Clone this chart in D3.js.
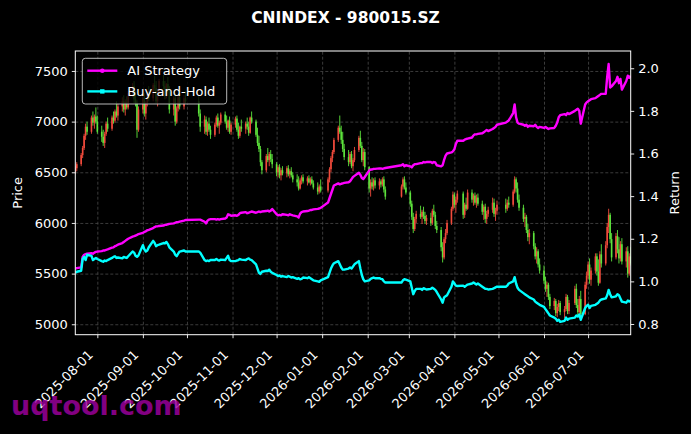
<!DOCTYPE html>
<html>
<head>
<meta charset="utf-8">
<script src="https://cdn.jsdelivr.net/npm/d3@7"></script>
<style>
html, body { margin: 0; padding: 0; background: #000; }
svg { display: block; font-family: "DejaVu Sans", sans-serif; }
</style>
</head>
<body>
<svg id="chart" width="691" height="434" viewBox="0 0 691 434"></svg>
<script>
// market closed (weekdays)
const holidays = ["2025-10-01","2025-10-02","2025-10-03","2025-10-06","2025-10-07","2025-10-08",
    "2026-01-01","2026-01-02","2026-02-16","2026-02-17","2026-02-18","2026-02-19","2026-02-20","2026-02-23",
    "2026-04-06","2026-05-01","2026-05-04","2026-05-05","2026-06-19"];

// daily [open, high, low, close]
const candles = [
    // 2025-07
    [6500,6560,6480,6540],[6540,6600,6510,6580],[6580,6690,6560,6670],[6670,6760,6640,6740],[6740,6880,6720,6860],[6860,6980,6820,6950],[6950,7000,6870,6900],[6900,7060,6880,7040],[7040,7100,6960,6990],[6990,7070,6930,7050],[7050,7140,6980,7000],
    // 2025-08
    [7000,7060,6880,6900],[6900,6960,6800,6850],[6850,6920,6760,6790],[6790,6900,6740,6880],[6880,7000,6860,6980],[6980,7040,6900,6930],[6930,7060,6910,7040],[7040,7100,6980,7010],[7010,7120,6990,7100],[7100,7200,7040,7060],[7060,7180,7010,7150],[7150,7240,7100,7200],[7200,7260,7090,7120],[7120,7220,7060,7190],[7190,7250,7120,7140],[7140,7300,7120,7280],[7280,7380,7240,7350],[7350,7400,7180,7220],[7220,7300,7150,7180],[7180,7210,6840,6920],[6920,7150,6900,7120],
    // 2025-09
    [7120,7250,7080,7230],[7230,7280,7050,7080],[7080,7200,7020,7180],[7180,7300,7150,7270],[7270,7350,7200,7230],[7230,7380,7200,7360],[7360,7450,7300,7330],[7330,7400,7180,7200],[7200,7320,7150,7300],[7300,7420,7260,7400],[7400,7460,7320,7350],[7350,7400,7220,7250],[7250,7380,7230,7370],[7370,7440,7280,7300],[7300,7350,7080,7120],[7120,7250,7060,7230],[7230,7280,6960,7000],[7000,7150,6980,7130],[7130,7260,7100,7240],[7240,7300,7120,7150],[7150,7260,7120,7230],[7230,7300,7180,7200],
    // 2025-10
    [7200,7250,7050,7080],[7080,7120,6900,6950],[6950,7060,6880,7020],[7020,7050,6870,6900],[6900,7000,6860,6980],[6980,7040,6900,6920],[6920,6960,6830,6870],[6870,6990,6850,6970],[6970,7060,6950,7040],[7040,7080,6940,6960],[6960,7010,6880,6990],[6990,7090,6970,7070],[7070,7100,6980,7000],[7000,7060,6920,6940],[6940,7020,6900,7010],[7010,7050,6880,6900],[6900,6990,6870,6970],
    // 2025-11
    [6970,7050,6940,7030],[7030,7060,6900,6920],[6920,6990,6830,6860],[6860,6960,6840,6950],[6950,7020,6900,6930],[6930,7000,6880,6980],[6980,7040,6920,6950],[6950,7000,6860,6890],[6890,7050,6880,7040],[7040,7100,6980,7000],[7000,7020,6850,6870],[6870,6940,6760,6790],[6790,6860,6700,6730],[6730,6760,6560,6600],[6600,6620,6480,6520],[6520,6680,6500,6660],[6660,6740,6600,6620],[6620,6700,6560,6680],[6680,6720,6600,6630],[6630,6680,6540,6580],
    // 2025-12
    [6580,6600,6460,6500],[6500,6570,6450,6550],[6550,6580,6440,6470],[6470,6540,6420,6520],[6520,6560,6470,6490],[6490,6560,6450,6540],[6540,6570,6460,6480],[6480,6530,6440,6510],[6510,6550,6450,6470],[6470,6500,6400,6430],[6430,6480,6360,6400],[6400,6460,6320,6340],[6340,6440,6330,6420],[6420,6470,6380,6450],[6450,6480,6390,6410],[6410,6460,6370,6440],[6440,6470,6390,6400],[6400,6450,6370,6430],[6430,6460,6380,6390],[6390,6420,6330,6350],[6350,6400,6280,6310],[6310,6380,6290,6360],[6360,6430,6300,6320],
    // 2026-01
    [6320,6450,6300,6430],[6430,6550,6400,6530],[6530,6660,6500,6640],[6640,6720,6600,6700],[6700,6840,6680,6820],[6820,6960,6800,6940],[6940,7060,6880,6900],[6900,6960,6780,6820],[6820,6900,6700,6730],[6730,6780,6620,6650],[6650,6720,6560,6600],[6600,6700,6580,6680],[6680,6710,6540,6560],[6560,6640,6510,6620],[6620,6750,6600,6720],[6720,6860,6700,6840],[6840,6910,6740,6760],[6760,6800,6600,6620],[6620,6740,6560,6700],[6700,6730,6520,6550],
    // 2026-02
    [6550,6560,6300,6340],[6340,6430,6260,6400],[6400,6450,6330,6360],[6360,6440,6320,6420],[6420,6450,6340,6370],[6370,6440,6330,6410],[6410,6430,6350,6380],[6380,6450,6360,6430],[6430,6460,6300,6330],[6330,6360,6230,6260],[6260,6380,6250,6360],[6360,6450,6330,6430],[6430,6460,6330,6350],[6350,6400,6280,6300],
    // 2026-03
    [6300,6320,6160,6190],[6190,6220,6030,6060],[6060,6100,5900,5940],[5940,6060,5920,6040],[6040,6120,6000,6090],[6090,6170,6040,6060],[6060,6130,5990,6110],[6110,6160,6040,6070],[6070,6110,5990,6020],[6020,6080,5980,6050],[6050,6100,5970,6000],[6000,6140,5980,6120],[6120,6180,6060,6080],[6080,6110,5940,5970],[5970,6020,5900,5930],[5930,5960,5720,5760],[5760,5810,5610,5660],[5660,5860,5640,5840],[5840,5940,5800,5900],[5900,6030,5880,6000],[6000,6160,5980,6140],[6140,6310,6120,6280],
    // 2026-04
    [6280,6300,6150,6180],[6180,6260,6100,6230],[6230,6320,6200,6290],[6290,6310,6040,6080],[6080,6200,6050,6180],[6180,6250,6120,6140],[6140,6330,6130,6300],[6300,6330,6200,6230],[6230,6290,6170,6270],[6270,6300,6180,6200],[6200,6280,6150,6250],[6250,6290,6170,6190],[6190,6220,6080,6110],[6110,6180,6030,6160],[6160,6190,6000,6040],[6040,6120,5990,6090],[6090,6160,6060,6130],[6130,6250,6100,6200],[6200,6240,6060,6090],[6090,6150,6020,6120],[6120,6220,6080,6180],
    // 2026-05
    [6180,6240,6100,6140],[6140,6230,6120,6200],[6200,6260,6150,6180],[6180,6330,6160,6310],[6310,6460,6290,6430],[6430,6450,6300,6340],[6340,6400,6200,6230],[6230,6280,6120,6150],[6150,6180,6010,6040],[6040,6100,5960,6060],[6060,6080,5900,5930],[5930,5990,5820,5860],[5860,5940,5790,5900],[5900,5920,5740,5770],[5770,5800,5640,5670],[5670,5760,5600,5720],[5720,5740,5560,5590],[5590,5650,5500,5530],
    // 2026-06
    [5530,5580,5400,5430],[5430,5470,5320,5350],[5350,5420,5270,5390],[5390,5410,5240,5270],[5270,5300,5150,5180],[5180,5260,5140,5230],[5230,5250,5080,5110],[5110,5200,5070,5170],[5170,5240,5130,5210],[5210,5230,5090,5120],[5120,5180,5060,5150],[5150,5300,5130,5270],[5270,5290,5100,5130],[5130,5240,5100,5210],[5210,5380,5190,5350],[5350,5400,5160,5190],[5190,5250,5080,5120],[5120,5280,5100,5250],[5250,5330,5060,5100],[5100,5420,5090,5390],[5390,5520,5350,5480],
    // 2026-07
    [5480,5620,5450,5590],[5590,5650,5400,5440],[5440,5560,5380,5530],[5530,5700,5500,5670],[5670,5700,5480,5520],[5520,5640,5380,5410],[5410,5720,5400,5690],[5690,5790,5560,5600],[5600,5820,5580,5780],[5780,6000,5750,5960],[5960,6140,5900,6080],[6080,6100,5800,5840],[5840,5900,5620,5660],[5660,5900,5640,5870],[5870,5930,5700,5740],[5740,5860,5600,5650],[5650,5820,5620,5790],[5790,5850,5590,5620],[5620,5760,5560,5720],[5720,5770,5460,5500],[5500,5700,5480,5670],[5670,5760,5580,5600]
];

const aiStrategy = [
    1.060,1.062,1.066,1.115,1.125,1.128,1.130,1.132,1.130,1.135,1.138,
    1.140,1.142,1.145,1.145,1.148,1.150,1.158,1.160,1.165,1.168,1.172,1.180,1.185,1.190,1.195,1.200,1.210,1.212,1.215,1.218,1.222,
    1.228,1.232,1.235,1.240,1.242,1.250,1.255,1.258,1.258,1.260,1.262,1.265,1.265,1.268,1.270,1.272,1.275,1.278,1.278,1.280,1.285,1.288,
    1.290,1.290,1.280,1.272,1.285,1.290,1.292,1.292,1.290,1.292,1.290,1.292,1.295,1.300,1.315,1.312,1.308,
    1.310,1.308,1.312,1.320,1.322,1.325,1.320,1.322,1.325,1.328,1.322,1.325,1.328,1.325,1.328,1.330,1.332,1.328,1.332,1.340,
    1.315,1.310,1.312,1.310,1.315,1.312,1.310,1.315,1.312,1.310,1.305,1.300,1.318,1.325,1.328,1.330,1.332,1.335,1.335,1.338,1.340,1.342,1.345,
    1.370,1.390,1.410,1.430,1.450,1.460,1.455,1.458,1.460,1.462,1.465,1.470,1.480,1.490,1.495,1.510,1.500,1.485,1.480,1.490,
    1.520,1.525,1.525,1.528,1.528,1.530,1.530,1.528,1.530,1.532,1.545,1.550,1.540,1.545,
    1.540,1.535,1.545,1.550,1.550,1.555,1.555,1.560,1.558,1.560,1.560,1.555,1.560,1.558,1.545,1.540,1.545,1.570,1.590,1.600,1.605,1.610,
    1.620,1.645,1.660,1.660,1.665,1.668,1.670,1.675,1.685,1.690,1.690,1.692,1.695,1.700,1.705,1.710,1.705,1.715,1.720,1.725,1.735,
    1.745,1.750,1.755,1.790,1.830,1.770,1.745,1.740,1.735,1.730,1.735,1.725,1.730,1.728,1.735,1.725,1.720,1.725,
    1.720,1.725,1.720,1.715,1.718,1.720,1.730,1.745,1.770,1.780,1.785,1.780,1.790,1.785,1.800,1.805,1.810,1.800,1.740,1.830,1.840,
    1.845,1.850,1.855,1.860,1.865,1.870,1.875,1.880,1.880,1.960,2.020,1.910,1.915,1.940,1.960,1.930,1.950,1.900,1.940,1.965,1.955,1.965
];

const buyHold = [
    1.040,1.045,1.050,1.105,1.115,1.100,1.125,1.120,1.100,1.105,1.110,
    1.105,1.095,1.092,1.098,1.095,1.100,1.110,1.115,1.118,1.110,1.112,1.108,1.115,1.112,1.110,1.118,1.140,1.135,1.120,1.115,1.122,
    1.170,1.150,1.140,1.145,1.160,1.190,1.180,1.165,1.170,1.172,1.180,1.178,1.185,1.175,1.160,1.140,1.125,1.118,1.130,1.140,1.145,1.140,
    1.140,1.135,1.100,1.095,1.098,1.095,1.100,1.100,1.105,1.100,1.098,1.102,1.100,1.110,1.120,1.100,1.095,
    1.095,1.098,1.100,1.105,1.102,1.100,1.105,1.108,1.102,1.100,1.080,1.060,1.040,1.035,1.045,1.050,1.048,1.055,1.045,1.040,
    1.030,1.025,1.028,1.022,1.025,1.020,1.025,1.022,1.018,1.020,1.012,1.015,1.010,1.012,1.018,1.015,1.020,1.015,1.010,1.005,1.000,0.998,1.005,
    1.020,1.040,1.060,1.075,1.085,1.095,1.080,1.065,1.055,1.055,1.060,1.065,1.060,1.070,1.080,1.095,1.060,1.030,1.010,1.000,
    1.005,1.012,1.015,1.018,1.015,1.015,1.012,1.010,1.000,0.995,0.995,1.005,1.010,1.008,
    1.000,0.970,0.940,0.955,0.965,0.965,0.960,0.968,0.965,0.962,0.965,0.970,0.965,0.960,0.950,0.915,0.900,0.925,0.930,0.935,0.975,1.000,
    0.990,0.980,0.978,0.980,0.975,0.980,0.985,0.990,0.995,0.990,0.985,0.990,0.975,0.970,0.965,0.965,0.962,0.965,0.968,0.972,0.975,
    0.975,0.980,0.990,1.000,1.020,0.990,0.970,0.960,0.945,0.940,0.935,0.930,0.925,0.915,0.905,0.900,0.895,0.890,
    0.880,0.870,0.860,0.850,0.840,0.830,0.825,0.815,0.820,0.810,0.815,0.830,0.820,0.825,0.830,0.840,0.835,0.845,0.820,0.875,0.885,
    0.890,0.875,0.885,0.890,0.895,0.900,0.910,0.915,0.920,0.935,0.960,0.940,0.925,0.930,0.940,0.935,0.920,0.905,0.900,0.910,0.905,0.910
];

const monthTicks = ["2025-08-01","2025-09-01","2025-10-01","2025-11-01","2025-12-01","2026-01-01",
    "2026-02-01","2026-03-01","2026-04-01","2026-05-01","2026-06-01","2026-07-01"];
const priceTicks = [5000, 5500, 6000, 6500, 7000, 7500];
const returnTicks = [0.8, 1.0, 1.2, 1.4, 1.6, 1.8, 2.0];

const parseDay = d3.timeParse("%Y-%m-%d");
const fmtDay = d3.timeFormat("%Y-%m-%d");

// weekdays between first and last session, minus exchange holidays
function tradingDays(first, last) {
    let days = [];
    let d = parseDay(first), end = parseDay(last);
    while (d <= end) {
        let wd = d.getDay();
        if (wd !== 0 && wd !== 6 && !holidays.includes(fmtDay(d))) days.push(new Date(d));
        d.setDate(d.getDate() + 1);
    }
    return days;
}
const days = tradingDays("2025-07-17", "2026-07-30");

let svg = d3.select("#chart");
let totalWidth = 691, totalHeight = 434;
let margins = {top: 51, right: 60.3, bottom: 99.3, left: 75.3};
let innerWidth = totalWidth - margins.left - margins.right;
let innerHeight = totalHeight - margins.top - margins.bottom;

svg.append("rect").attr("width", totalWidth).attr("height", totalHeight).style("fill", "#000");

let x = d3.scaleTime([days[0], days[days.length - 1]], [0, innerWidth]);
let yPrice = d3.scaleLinear([4897, 7697], [innerHeight, 0]);
let yRet = d3.scaleLinear([0.7498, 2.081], [innerHeight, 0]);

svg.append("defs").append("clipPath").attr("id", "plotClip")
    .append("rect").attr("width", innerWidth).attr("height", innerHeight);

let chart = svg.append("g").attr("transform", `translate(${margins.left},${margins.top})`);

// grid (dashed, no labels)
let gridColor = "#4a4a4a";
chart.append("g")
    .call(d3.axisLeft(yPrice).tickValues(priceTicks).tickFormat("").tickSize(-innerWidth))
    .call(g => g.select(".domain").remove())
    .call(g => g.selectAll("text").remove())
    .selectAll("line").attr("stroke", gridColor).attr("stroke-width", 0.8).attr("stroke-dasharray", "3,2");
chart.append("g")
    .attr("transform", `translate(0,${innerHeight})`)
    .call(d3.axisBottom(x).tickValues(monthTicks.map(parseDay)).tickFormat("").tickSize(-innerHeight))
    .call(g => g.select(".domain").remove())
    .call(g => g.selectAll("text").remove())
    .selectAll("line").attr("stroke", gridColor).attr("stroke-width", 0.8).attr("stroke-dasharray", "3,2");

// candles
let plot = chart.append("g").attr("clip-path", "url(#plotClip)");
let n = Math.min(days.length, candles.length);
let candleData = candles.slice(0, n).map((c, i) => ({date: days[i], o: c[0], h: c[1], l: c[2], c: c[3]}));
let upColor = "#f24b3c", downColor = "#5de43c";

let candle = plot.append("g").selectAll(".candle").data(candleData)
    .enter().append("g").attr("class", "candle");
candle.append("line")
    .attr("x1", d => x(d.date)).attr("x2", d => x(d.date))
    .attr("y1", d => yPrice(d.h)).attr("y2", d => yPrice(d.l))
    .attr("stroke", d => d.c >= d.o ? upColor : downColor)
    .attr("stroke-width", 0.9);
candle.append("rect")
    .attr("x", d => x(d.date) - 0.8)
    .attr("width", 1.6)
    .attr("y", d => yPrice(Math.max(d.o, d.c)))
    .attr("height", d => Math.max(0.6, Math.abs(yPrice(d.o) - yPrice(d.c))))
    .attr("fill", d => d.c >= d.o ? upColor : downColor);

// return lines
function drawLine(values, color) {
    let m = Math.min(days.length, values.length);
    let pts = values.slice(0, m).map((v, i) => [days[i], v]);
    plot.append("path")
        .datum(pts)
        .attr("d", d3.line().x(d => x(d[0])).y(d => yRet(d[1])))
        .attr("fill", "none")
        .attr("stroke", color)
        .attr("stroke-width", 2.4)
        .attr("stroke-linejoin", "round");
}
drawLine(aiStrategy, "#ff00ff");
drawLine(buyHold, "#00ffff");

// spines
chart.append("rect")
    .attr("width", innerWidth).attr("height", innerHeight)
    .attr("fill", "none").attr("stroke", "#fff").attr("stroke-width", 1);

function styleAxis(g) {
    g.select(".domain").remove();
    g.attr("font-size", null).attr("font-family", null);
    g.selectAll(".tick line").attr("stroke", "#fff").attr("stroke-width", 0.9);
    g.selectAll(".tick text").attr("fill", "#fff").style("font-size", "13px")
        .style("font-family", "'DejaVu Sans', sans-serif");
}

chart.append("g")
    .call(d3.axisLeft(yPrice).tickValues(priceTicks).tickFormat(d3.format("d")).tickSize(3.5).tickPadding(4))
    .call(styleAxis);

chart.append("g")
    .attr("transform", `translate(${innerWidth},0)`)
    .call(d3.axisRight(yRet).tickValues(returnTicks).tickFormat(d3.format(".1f")).tickSize(3.5).tickPadding(4))
    .call(styleAxis);

chart.append("g")
    .attr("transform", `translate(0,${innerHeight})`)
    .call(d3.axisBottom(x).tickValues(monthTicks.map(parseDay)).tickFormat(fmtDay).tickSize(3.5))
    .call(styleAxis)
    .selectAll(".tick text")
    .attr("x", 0).attr("y", 0).attr("dy", null)
    .attr("text-anchor", "end")
    .attr("transform", "translate(-4,21) rotate(-45)");

// axis titles
chart.append("text")
    .attr("transform", `translate(${17 - margins.left},${innerHeight / 2}) rotate(-90)`)
    .attr("text-anchor", "middle").attr("dy", "0.35em")
    .attr("fill", "#fff").style("font-size", "13px")
    .text("Price");
chart.append("text")
    .attr("transform", `translate(${innerWidth + 44},${innerHeight / 2}) rotate(-90)`)
    .attr("text-anchor", "middle").attr("dy", "0.35em")
    .attr("fill", "#fff").style("font-size", "13px")
    .text("Return");

// title
svg.append("text")
    .attr("x", totalWidth / 2).attr("y", 23)
    .attr("text-anchor", "middle")
    .attr("fill", "#fff").style("font-size", "15.5px").style("font-weight", "bold")
    .text("CNINDEX - 980015.SZ");

// legend
let legend = svg.append("g").attr("transform", "translate(82.3,58.3)");
legend.append("rect")
    .attr("width", 144.4).attr("height", 45.7).attr("rx", 3)
    .attr("fill", "#000").attr("fill-opacity", 0.8)
    .attr("stroke", "#cccccc").attr("stroke-width", 0.9);
let entries = [
    {label: "AI Strategy", color: "#ff00ff", marker: "circle"},
    {label: "Buy-and-Hold", color: "#00ffff", marker: "square"}
];
entries.forEach((e, i) => {
    let ey = 12.4 + i * 20.7;
    let row = legend.append("g").attr("transform", `translate(0,${ey})`);
    row.append("line").attr("x1", 5).attr("x2", 35).attr("y1", 0).attr("y2", 0)
        .attr("stroke", e.color).attr("stroke-width", 2.4);
    if (e.marker === "circle") {
        row.append("circle").attr("cx", 20).attr("cy", 0).attr("r", 2.3).attr("fill", e.color);
    } else {
        row.append("rect").attr("x", 17.8).attr("y", -2.2).attr("width", 4.4).attr("height", 4.4).attr("fill", e.color);
    }
    row.append("text").attr("x", 45).attr("y", 0).attr("dy", "0.35em")
        .attr("fill", "#fff").style("font-size", "13px")
        .text(e.label);
});

// watermark
svg.append("text")
    .attr("x", 11).attr("y", 415)
    .attr("fill", "#a000a0").attr("fill-opacity", 0.82)
    .style("font-size", "27px").style("font-weight", "bold")
    .text("uqtool.com");
</script>
</body>
</html>
